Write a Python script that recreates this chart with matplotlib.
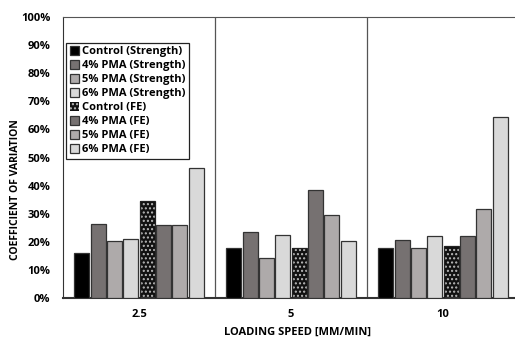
import numpy as np
import matplotlib
matplotlib.use("Agg")
import matplotlib.pyplot as plt

plt.rcParams['font.family'] = ['Open Sans', 'DejaVu Sans']
plt.rcParams['font.weight'] = 'bold'

speeds = ["2.5", "5", "10"]
series = ["Control (Strength)", "4% PMA (Strength)", "5% PMA (Strength)", "6% PMA (Strength)",
          "Control (FE)", "4% PMA (FE)", "5% PMA (FE)", "6% PMA (FE)"]
values = [
    [16.0, 17.9, 17.9],   # Control (Strength)
    [26.3, 23.6, 20.5],   # 4% PMA (Strength)
    [20.2, 14.3, 17.9],   # 5% PMA (Strength)
    [21.0, 22.3, 21.9],   # 6% PMA (Strength)
    [34.6, 17.8, 18.6],   # Control (FE)
    [26.1, 38.4, 21.9],   # 4% PMA (FE)
    [26.1, 29.6, 31.5],   # 5% PMA (FE)
    [46.3, 20.2, 64.5],   # 6% PMA (FE)
]

colors = ['#000000', '#767171', '#aeaaaa', '#d9d9d9',
          '#111111', '#767171', '#aeaaaa', '#d9d9d9']

fig = plt.figure(figsize=(5.15, 3.38), dpi=100)
ax = fig.add_axes([63/515, 1-298/338, 456/515, 281/338])

x = np.arange(len(speeds))
slot = 0.86 / 8
w = slot * 0.9
for i, (name, vals) in enumerate(zip(series, values)):
    pos = x - 0.43 + slot * (i + 0.5)
    if i == 4:
        # dotted black bar: hatch first, then an outline on top
        ax.bar(pos, vals, w, color=colors[i], edgecolor='#bbbbbb', hatch='....',
               linewidth=0, zorder=2, label=name)
        ax.bar(pos, vals, w, color='none', edgecolor='#222222', linewidth=0.9,
               zorder=3)
    else:
        ax.bar(pos, vals, w, color=colors[i], edgecolor='#333333', linewidth=0.9,
               zorder=3, label=name)

# group separators
for b in [0.5, 1.5]:
    ax.axvline(b, color='#555555', lw=0.9, zorder=1)

ax.set_xlim(-0.5, 2.5)
ax.set_ylim(0, 100)
ax.set_yticks(np.arange(0, 101, 10))
ax.set_yticklabels([f"{v}%" for v in range(0, 101, 10)])
ax.set_xticks(x)
ax.set_xticklabels(speeds)
ax.tick_params(length=0, labelsize=8)
ax.tick_params(axis='y', pad=9)
ax.tick_params(axis='x', pad=8)
for t in ax.get_yticklabels() + ax.get_xticklabels():
    t.set_fontweight('bold')

ax.spines['right'].set_visible(False)
ax.spines['top'].set_color('#555555')
ax.spines['left'].set_color('#333333')
ax.spines['bottom'].set_color('#333333')
ax.spines['bottom'].set_linewidth(1.5)

fig.text(297/515, 1-332/338, "LOADING SPEED [MM/MIN]", ha='center', va='center',
         fontsize=8, fontweight='bold')
fig.text(16/515, 1-190/338, "COEFFICIENT OF VARIATION", ha='center', va='center',
         rotation=90, fontsize=7.5, fontweight='bold')

leg = ax.legend(loc='upper left', bbox_to_anchor=(0.0, 0.92), fontsize=8,
                handlelength=0.8, handleheight=0.8, handletextpad=0.3,
                labelspacing=0.26, borderpad=0.3, borderaxespad=0.3,
                fancybox=False, framealpha=1, edgecolor='#222222')
leg.get_frame().set_linewidth(0.9)
for t in leg.get_texts():
    t.set_fontweight('bold')

fig.text(257/515, 1.02, "(a)", ha='center', va='center', fontsize=9, fontweight='bold')

fig.savefig("out.png", dpi=100)
